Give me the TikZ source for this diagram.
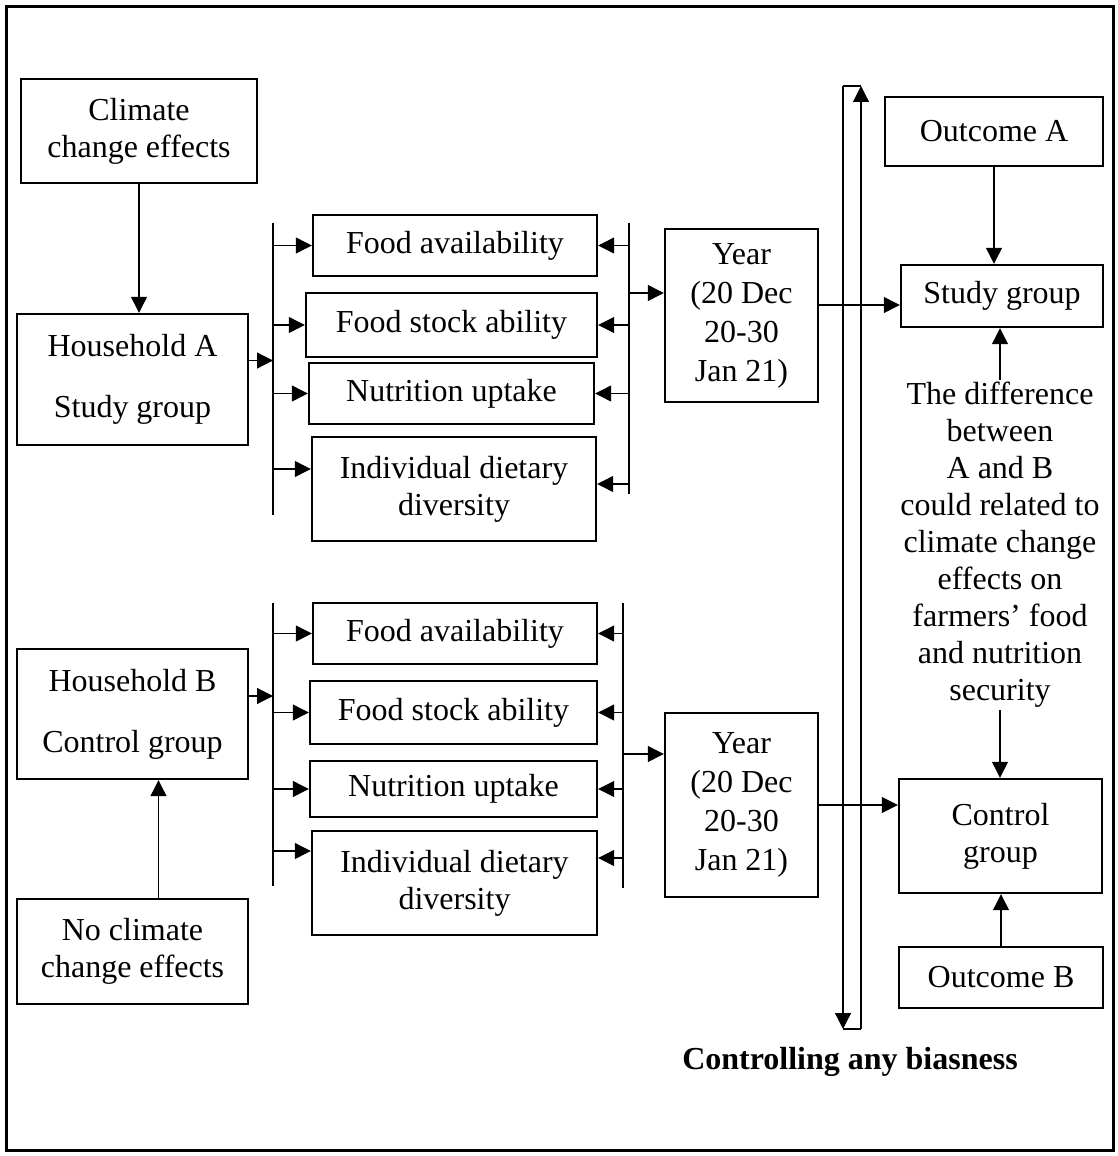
\documentclass[tikz,border=0pt]{standalone}
\usepackage{fontspec}
\setmainfont{Liberation Serif}
\usepackage{tikz}
\usetikzlibrary{arrows.meta,calc}
\tikzset{
    box/.style={rectangle,draw,line width=1.2pt,inner sep=1pt,align=center,
                font=\fontsize{16}{18.5}\selectfont},
    yearbox/.style={box,font=\fontsize{16}{19.5}\selectfont},
    note/.style={align=center,inner sep=1pt,font=\fontsize{16}{18.5}\selectfont},
    edge/.style={-{Triangle[length=8pt,width=8pt]},line width=0.6pt},
    bus/.style={line width=0.6pt},
}

\begin{document}
\begin{tikzpicture}[x=0.5pt,y=-0.5pt]
\useasboundingbox (0,0) rectangle (1118,1156);
\draw[line width=1.5pt] (6,7) rectangle (1113,1150);

% household A side
\node[box,minimum width=118pt,minimum height=52pt] (clim) at (139,131) {Climate\\change effects};
\node[box,minimum width=115.5pt,minimum height=65.5pt] (hhA) at (132.5,379.5) {Household A\\[12pt]Study group};
\node[box,minimum width=142pt,minimum height=30.5pt] (faA) at (455,245.5) {Food availability};
\node[box,minimum width=145.5pt,minimum height=32pt] (fsA) at (451.5,325) {Food stock ability};
\node[box,minimum width=142.5pt,minimum height=30.5pt] (nuA) at (451.5,393.5) {Nutrition uptake};
\node[box,minimum width=142pt,minimum height=52pt] (idA) at (454,489) {Individual dietary\\diversity};
\node[yearbox,minimum width=76.5pt,minimum height=86.5pt] (yearA) at (741.5,315.5) {Year\\(20 Dec\\20-30\\Jan 21)};

% household B side
\node[box,minimum width=115.5pt,minimum height=65pt] (hhB) at (132.5,714) {Household B\\[12pt]Control group};
\node[box,minimum width=115.5pt,minimum height=52.5pt] (noclim) at (132.5,951.5) {No climate\\change effects};
\node[box,minimum width=142pt,minimum height=30.5pt] (faB) at (455,633.5) {Food availability};
\node[box,minimum width=143.5pt,minimum height=31.5pt] (fsB) at (453.5,712.5) {Food stock ability};
\node[box,minimum width=143.5pt,minimum height=28pt] (nuB) at (453.5,789) {Nutrition uptake};
\node[box,minimum width=142.5pt,minimum height=52pt] (idB) at (454.5,883) {Individual dietary\\diversity};
\node[yearbox,minimum width=76.5pt,minimum height=92pt] (yearB) at (741.5,805) {Year\\(20 Dec\\20-30\\Jan 21)};

% outcomes
\node[box,minimum width=109pt,minimum height=34.5pt] (outA) at (994,131.5) {Outcome A};
\node[box,minimum width=101pt,minimum height=31pt] (studyA) at (1002,296) {Study group};
\node[note] (diff) at (1000,545) {The difference\\between\\A and B\\could related to\\climate change\\effects on\\farmers’ food\\and nutrition\\security};
\node[box,minimum width=101.5pt,minimum height=57pt] (ctrl) at (1000.5,836) {Control\\group};
\node[box,minimum width=102pt,minimum height=30.5pt] (outB) at (1001,977.5) {Outcome B};
\node[note,font=\fontsize{16}{18.5}\selectfont\bfseries] (bias) at (850,1062) {Controlling any biasness};

% bus lines
\coordinate (busA1) at (273,223);  \coordinate (busA2) at (273,515);
\coordinate (busAR1) at (629,223); \coordinate (busAR2) at (629,494);
\coordinate (busB1) at (273,603);  \coordinate (busB2) at (273,886);
\coordinate (busBR1) at (623,603); \coordinate (busBR2) at (623,888);
\draw[bus] (busA1) -- (busA2);  \draw[bus] (busAR1) -- (busAR2);
\draw[bus] (busB1) -- (busB2);  \draw[bus] (busBR1) -- (busBR2);

% loop
\coordinate (loopNW) at (843,86);   \coordinate (loopNE) at (861,86);
\coordinate (loopSW) at (843,1029); \coordinate (loopSE) at (861,1029);
\draw[bus] (loopNW) -- (loopNE);
\draw[bus] (loopSW) -- (loopSE);
\draw[edge] (loopSE) -- (loopNE);
\draw[edge] (loopNW) -- (loopSW);

% A arrows
\draw[edge] (clim.south) -- (clim.south |- hhA.north);
\coordinate (hA) at ([yshift=9.5pt]hhA.east);
\draw[edge] (hA) -- (hA -| busA1);
\foreach \b in {faA,fsA,nuA} \draw[edge] (\b.west -| busA1) -- (\b.west);
\coordinate (iA) at ([yshift=10pt]idA.west);
\draw[edge] (iA -| busA1) -- (iA);
\foreach \b in {faA,fsA,nuA} \draw[edge] (\b.east -| busAR1) -- (\b.east);
\coordinate (iAR) at ([yshift=2.5pt]idA.east);
\draw[edge] (iAR -| busAR1) -- (iAR);
\coordinate (jA) at (629,293);
\draw[edge] (jA) -- (jA -| yearA.west);
\coordinate (sA) at ([yshift=-4.5pt]studyA.west);
\draw[edge] (sA -| yearA.east) -- (sA);
\draw[edge] (outA.south) -- (outA.south |- studyA.north);
\draw[edge] (diff.north) -- (diff.north |- studyA.south);

% B arrows
\coordinate (nc) at ([xshift=13pt]noclim.north);
\draw[edge] (nc) -- (nc |- hhB.south);
\coordinate (hB) at ([yshift=9pt]hhB.east);
\draw[edge] (hB) -- (hB -| busB1);
\foreach \b in {faB,fsB,nuB} \draw[edge] (\b.west -| busB1) -- (\b.west);
\coordinate (iB) at ([yshift=16pt]idB.west);
\draw[edge] (iB -| busB1) -- (iB);
\foreach \b in {faB,fsB,nuB} \draw[edge] (\b.east -| busBR1) -- (\b.east);
\coordinate (iBR) at ([yshift=12.5pt]idB.east);
\draw[edge] (iBR -| busBR1) -- (iBR);
\coordinate (jB) at (623,754);
\draw[edge] (jB) -- (jB -| yearB.west);
\draw[edge] (yearB.east) -- (yearB.east -| ctrl.west);
\draw[edge] (diff.south) -- (diff.south |- ctrl.north);
\draw[edge] (outB.north) -- (outB.north |- ctrl.south);
\end{tikzpicture}
\end{document}
